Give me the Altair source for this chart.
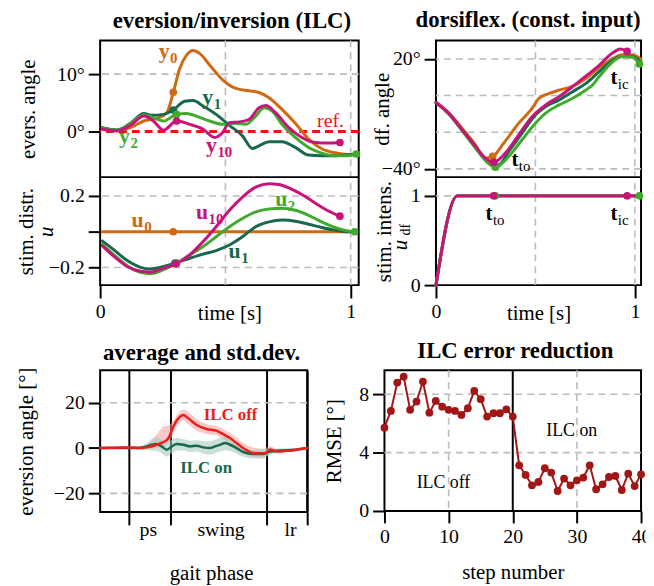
import altair as alt
import pandas as pd

FONT = "Liberation Serif"
ORANGE = "#cf6a12"
DKGREEN = "#17694c"
LTGREEN = "#3eab2d"
MAGENTA = "#c9137a"
REFRED = "#ee1414"
GRID = "#bcbcbc"
OFFRED = "#ee1c1c"
DARKRED = "#a31616"

# ---------------- data ----------------
# eversion/inversion (ILC): time [s], angle [deg]
y0_t = [0.009, 0.068, 0.121, 0.174, 0.226, 0.266, 0.292, 0.318, 0.345, 0.371, 0.397, 0.437,
        0.489, 0.542, 0.595, 0.634, 0.674, 0.726, 0.779, 0.832, 0.884, 0.937, 0.989, 1.029]
y0_v = [0.57, 0.23, 0.69, 1.84, 2.3, 3.28, 6.84, 11.0, 13.3, 14.1, 13.6, 11.6,
        9.0, 7.5, 7.1, 6.8, 5.9, 3.85, 1.44, -1.3, -3.0, -3.7, -4.0, -3.9]
y1_t = [0.009, 0.068, 0.121, 0.174, 0.207, 0.253, 0.292, 0.338, 0.371, 0.411, 0.463, 0.516,
        0.568, 0.608, 0.634, 0.674, 0.726, 0.779, 0.832, 0.884, 0.937, 0.989, 1.029]
y1_v = [0.69, 0.29, 1.44, 3.16, 2.82, 2.99, 3.74, 5.29, 5.4, 4.43, 2.99, 1.09,
        -0.75, -2.93, -2.47, -1.78, -1.78, -2.76, -4.08, -4.2, -4.2, -4.02, -3.9]
y2_t = [0.009, 0.068, 0.121, 0.174, 0.213, 0.253, 0.305, 0.345, 0.384, 0.437, 0.489, 0.542,
        0.582, 0.621, 0.654, 0.687, 0.726, 0.779, 0.832, 0.884, 0.937, 0.989, 1.022]
y2_v = [0.57, 0.23, 1.44, 2.87, 2.41, 1.84, 2.99, 3.16, 2.7, 1.84, 1.26, 1.44,
        1.26, 2.7, 4.14, 3.56, 1.26, -1.03, -2.76, -3.74, -4.2, -4.2, -3.9]
y10_t = [0.009, 0.068, 0.121, 0.174, 0.213, 0.253, 0.305, 0.358, 0.411, 0.457, 0.489, 0.516,
         0.555, 0.595, 0.634, 0.661, 0.7, 0.753, 0.805, 0.858, 0.911, 0.957]
y10_v = [0.4, 0.11, 1.09, 2.7, 1.84, 0.23, 1.84, 1.26, 0.4, -1.03, -0.17, 1.55,
         1.67, 2.13, 4.14, 4.54, 3.28, 0.69, -1.03, -1.9, -2.0, -1.9]

# stimulation distribution u
u0_t = [0.009, 0.292, 1.016]
u0_v = [0.0, 0.0, 0.0]
u1_t = [0.009, 0.055, 0.108, 0.161, 0.2, 0.253, 0.299, 0.358, 0.411, 0.463, 0.516, 0.568,
        0.621, 0.674, 0.726, 0.779, 0.832, 0.884, 0.937, 0.989, 1.016]
u1_v = [-0.052, -0.101, -0.161, -0.199, -0.208, -0.194, -0.175, -0.148, -0.125, -0.105, -0.074, -0.028,
        0.028, 0.055, 0.065, 0.059, 0.042, 0.024, 0.009, 0.0, 0.0]
u2_t = [0.009, 0.055, 0.108, 0.161, 0.2, 0.253, 0.305, 0.358, 0.411, 0.463, 0.516, 0.568,
        0.621, 0.674, 0.726, 0.779, 0.832, 0.884, 0.937, 0.989, 1.016]
u2_v = [-0.070, -0.129, -0.19, -0.227, -0.234, -0.212, -0.175, -0.129, -0.083, -0.028, 0.028, 0.074,
        0.111, 0.127, 0.131, 0.12, 0.092, 0.055, 0.024, 0.004, 0.0]
u10_t = [0.009, 0.055, 0.108, 0.161, 0.2, 0.253, 0.303, 0.358, 0.411, 0.463, 0.516, 0.568,
         0.621, 0.674, 0.713, 0.753, 0.805, 0.858, 0.911, 0.957]
u10_v = [-0.079, -0.138, -0.194, -0.221, -0.225, -0.203, -0.179, -0.129, -0.055, 0.028, 0.12, 0.194,
         0.249, 0.268, 0.264, 0.245, 0.208, 0.161, 0.116, 0.087]

# dorsiflexion (const. input): angle [deg]
dfo_t = [0.0, 0.064, 0.131, 0.198, 0.245, 0.285, 0.341, 0.416, 0.483, 0.517, 0.567, 0.617,
         0.685, 0.752, 0.819, 0.886, 0.936, 0.987, 1.03]
dfo_v = [-3.8, -9.4, -17.8, -26.8, -34.2, -33.2, -25.9, -15.1, -7.0, -1.6, 1.1, 2.9,
         5.0, 9.2, 15.1, 20.0, 22.3, 22.3, 20.0]
dfd_t = [0.0, 0.064, 0.131, 0.198, 0.248, 0.282, 0.315, 0.366, 0.433, 0.5, 0.55, 0.617,
         0.685, 0.752, 0.819, 0.886, 0.936, 0.987, 1.03]
dfd_v = [-3.8, -9.7, -18.7, -27.7, -35.0, -37.7, -37.7, -30.5, -20.5, -10.6, -6.1, -2.5,
         2.0, 6.5, 12.9, 19.1, 21.3, 21.3, 18.2]
dfl_t = [0.0, 0.064, 0.131, 0.198, 0.257, 0.299, 0.366, 0.433, 0.5, 0.55, 0.617, 0.685,
         0.752, 0.785, 0.819, 0.886, 0.936, 0.987, 1.023]
dfl_v = [-3.8, -10.1, -19.1, -28.6, -36.4, -39.1, -33.2, -24.1, -15.1, -9.7, -5.2, -1.6,
         2.9, 5.6, 10.1, 18.2, 21.3, 20.9, 17.3]
dfm_t = [0.0, 0.064, 0.131, 0.198, 0.248, 0.29, 0.349, 0.416, 0.483, 0.55, 0.617, 0.685,
         0.752, 0.819, 0.886, 0.928, 0.961]
dfm_v = [-3.8, -9.7, -18.7, -27.7, -34.1, -36.4, -31.4, -21.4, -11.5, -5.2, -0.7, 4.7,
         10.5, 16.4, 23.1, 25.4, 24.1]

# stimulation intensity u_df
ramp_t = [0.0, 0.107, 1.03]
ramp_v = [0.0, 1.0, 1.0]

# average and std.dev. (gait phase 0..1)
off_x = [0.0, 0.08, 0.145, 0.193, 0.225, 0.273, 0.305, 0.33, 0.354, 0.378, 0.402, 0.426, 0.466,
         0.514, 0.563, 0.595, 0.627, 0.659, 0.691, 0.74, 0.788, 0.804, 0.82, 0.852, 0.9, 0.949, 1.0]
off_m = [0.0, 0.15, 0.3, 0.0, 0.3, 1.46, 2.6, 4.4, 9.5, 13.1, 14.6, 13.1, 10.2,
         8.4, 7.6, 6.1, 4.4, 2.2, 0.0, -2.2, -2.3, -2.0, -0.6, -1.5, -1.2, -0.7, 0.0]
off_hi = [0.5, 0.6, 0.8, 0.6, 1.5, 6.0, 9.5, 10.0, 12.0, 15.5, 17.0, 16.0, 12.8,
          10.6, 9.6, 8.3, 6.8, 4.6, 2.2, 0.2, -0.3, 0.3, 0.8, -0.4, -0.5, 0.0, 0.5]
off_lo = [-0.5, -0.3, -0.2, -0.6, -0.5, 0.0, 0.8, 2.0, 6.5, 10.5, 12.2, 10.5, 7.7,
          6.2, 5.6, 3.9, 2.1, -0.2, -2.2, -4.2, -4.4, -3.5, -2.0, -2.3, -1.8, -1.2, -0.5]
on_x = [0.0, 0.177, 0.225, 0.249, 0.273, 0.297, 0.322, 0.346, 0.37, 0.402, 0.434, 0.466, 0.498,
        0.53, 0.555, 0.579, 0.603, 0.627, 0.659, 0.691, 0.74, 0.788, 0.812, 0.852, 0.949, 1.0]
on_m = [0.0, 0.0, 0.73, 1.46, 1.75, 0.73, -0.73, 0.73, 1.75, 1.46, 0.73, 1.0, 0.3,
        0.0, 0.73, 1.46, 2.2, 1.46, 0.0, -1.75, -2.6, -2.6, -1.75, -1.2, -0.7, 0.0]
on_sd = [0.4, 0.5, 1.5, 2.5, 3.0, 3.0, 3.0, 3.0, 2.8, 2.5, 2.5, 2.5, 2.8,
         3.0, 3.0, 3.0, 3.0, 2.8, 2.5, 2.2, 2.0, 2.0, 1.5, 1.0, 0.7, 0.4]
phase_bounds = [0.14, 0.34, 0.806, 1.0]
phase_names = ["ps", "swing", "lr"]
phase_centers = [0.233, 0.584, 0.92]

# ILC error reduction
rmse_step = [0, 1, 2, 3, 4, 5, 6, 7, 8, 9, 10, 11, 12, 13, 14, 15, 16, 17, 18, 19, 20,
             21, 22, 23, 24, 25, 26, 27, 28, 29, 30, 31, 32, 33, 34, 35, 36, 37, 38, 39, 40]
rmse_val = [5.71, 6.86, 8.8, 9.21, 6.93, 7.5, 8.87, 6.74, 7.54, 7.15, 6.93, 6.86, 6.58, 7.04,
            8.23, 7.66, 6.47, 6.7, 6.7, 6.97, 6.47, 3.13, 2.47, 1.76, 1.99, 2.93, 2.63, 1.37,
            2.22, 1.76, 2.1, 2.29, 3.13, 1.49, 1.83, 2.33, 2.4, 1.44, 2.56, 1.71, 2.51]

time_grid = [0.5, 1.0]


# ---------------- helpers ----------------
def sc(dom, rng=None):
    if rng is None:
        return alt.Scale(domain=dom, nice=False, zero=False)
    return alt.Scale(domain=dom, range=rng, nice=False, zero=False)


def line(xe, ye, t, v, color, width=3.0, interp="monotone"):
    return alt.Chart(pd.DataFrame({"x": t, "y": v})).mark_line(
        interpolate=interp, strokeWidth=width, color=color, strokeCap="round", strokeJoin="round"
    ).encode(x=xe, y=ye)


def dots(xe, ye, t, v, color, size=60):
    return alt.Chart(pd.DataFrame({"x": t, "y": v})).mark_circle(
        size=size, opacity=1, color=color
    ).encode(x=xe, y=ye)


def hrules(ye, vals, color=GRID, dash=(7, 5), width=1.6):
    return alt.Chart(pd.DataFrame({"y": vals})).mark_rule(
        color=color, strokeDash=list(dash), strokeWidth=width
    ).encode(y=ye)


def vrules(xe, vals, color=GRID, dash=(7, 5), width=1.6):
    return alt.Chart(pd.DataFrame({"x": vals})).mark_rule(
        color=color, strokeDash=list(dash), strokeWidth=width
    ).encode(x=xe)


def text(xe, ye, x, y, s, color="black", size=20, weight="normal", align="center",
         baseline="alphabetic", angle=0, style="normal"):
    return alt.Chart(pd.DataFrame({"x": [x], "y": [y], "s": [s]})).mark_text(
        font=FONT, fontSize=size, fontWeight=weight, color=color, align=align,
        baseline=baseline, angle=angle, fontStyle=style
    ).encode(x=xe, y=ye, text="s:N")


def heading(xe, ye, x, y, s):
    return text(xe, ye, x, y, s, size=23, weight="bold")


def sublabel(xe, ye, x, y, main, sub, color, msize=22, ssize=15, sweight="bold", sdy=5):
    d = pd.DataFrame({"x": [x], "y": [y], "m": [main], "s": [sub]})
    a = alt.Chart(d).mark_text(align="right", baseline="alphabetic", font=FONT, fontSize=msize,
                               fontWeight="bold", color=color).encode(x=xe, y=ye, text="m:N")
    b = alt.Chart(d).mark_text(align="left", baseline="alphabetic", font=FONT, fontSize=ssize,
                               fontWeight=sweight, color=color, dx=0.5, dy=sdy).encode(x=xe, y=ye, text="s:N")
    return [a, b]


# ---------------- top-left: eversion (upper) + stim. distr. (lower) ----------------
WA, H1, H2 = 261, 138, 109
HT = H1 + H2
A1_dom = [-7.93, 15.86]
A2_dom = [-0.298, 0.305]
xA = alt.X("x:Q", scale=sc([0, 1.032]),
           axis=alt.Axis(values=[0, 1], format="d", title="time [s]", titleX=WA / 2, titleY=29,
                         titleBaseline="middle", tickSize=13, labelFlush=False))
yA1 = alt.Y("y:Q", scale=sc(A1_dom, [H1, 0]),
            axis=alt.Axis(values=[0, 10], labelExpr="datum.label + '°'", title="evers. angle",
                          orient="left", titleX=-72, titleY=H1 / 2, titleBaseline="middle"))
yA2 = alt.Y("y:Q", scale=sc(A2_dom, [HT, H1]),
            axis=alt.Axis(values=[-0.2, 0, 0.2], format=".1f", orient="left",
                          labelExpr="datum.value == 0 ? '' : datum.label",
                          title="stim. distr.", titleX=-74, titleY=H1 + H2 / 2, titleBaseline="middle"))
A_up = alt.layer(
    vrules(xA, time_grid),
    hrules(yA1, [10]),
    hrules(yA1, [0], color=REFRED, dash=(8, 5), width=3),
    line(xA, yA1, y0_t, y0_v, ORANGE),
    line(xA, yA1, y1_t, y1_v, DKGREEN),
    line(xA, yA1, y2_t, y2_v, LTGREEN),
    line(xA, yA1, y10_t, y10_v, MAGENTA),
    dots(xA, yA1, [y0_t[6]], [y0_v[6]], ORANGE),
    dots(xA, yA1, [y1_t[6]], [y1_v[6]], DKGREEN),
    dots(xA, yA1, [y2_t[6], y2_t[-1]], [y2_v[6], y2_v[-1]], LTGREEN),
    dots(xA, yA1, [y10_t[6], y10_t[-1]], [y10_v[6], y10_v[-1]], MAGENTA),
    *sublabel(xA, yA1, 0.277, 12.76, "y", "0", ORANGE),
    *sublabel(xA, yA1, 0.451, 4.83, "y", "1", DKGREEN),
    *sublabel(xA, yA1, 0.119, -2.07, "y", "2", LTGREEN),
    *sublabel(xA, yA1, 0.466, -3.62, "y", "10", MAGENTA),
    text(xA, yA1, 0.866, 0.86, "ref.", color=REFRED, align="left"),
    hrules(yA1, [A1_dom[0]], color="black", dash=(1, 0), width=2),
    heading(xA, yA1, 0.526, 18.1, "eversion/inversion (ILC)"),
)
A_low = alt.layer(
    hrules(yA2, [-0.2, 0.2]),
    line(xA, yA2, u0_t, u0_v, ORANGE),
    line(xA, yA2, u1_t, u1_v, DKGREEN),
    line(xA, yA2, u2_t, u2_v, LTGREEN),
    line(xA, yA2, u10_t, u10_v, MAGENTA),
    dots(xA, yA2, [u0_t[1]], [u0_v[1]], ORANGE),
    dots(xA, yA2, [u1_t[6]], [u1_v[6]], DKGREEN),
    dots(xA, yA2, [u2_t[6], u2_t[-1]], [u2_v[6], u2_v[-1]], LTGREEN),
    dots(xA, yA2, [u10_t[6], u10_t[-1]], [u10_v[6], u10_v[-1]], MAGENTA),
    *sublabel(xA, yA2, 0.174, 0.029, "u", "0", ORANGE),
    *sublabel(xA, yA2, 0.431, 0.073, "u", "10", MAGENTA),
    *sublabel(xA, yA2, 0.747, 0.145, "u", "2", LTGREEN),
    *sublabel(xA, yA2, 0.561, -0.148, "u", "1", DKGREEN),
    text(xA, yA2, -0.213, 0.0, "u", angle=270, baseline="middle", style="italic", size=21),
)
A = alt.layer(A_up, A_low).resolve_scale(y="independent").properties(width=WA, height=HT)

# ---------------- top-right: dorsiflexion + stim. intens. ----------------
WB = 207
B1_dom = [-44.5, 30.1]
B2_dom = [0, 1.21]
xB = alt.X("x:Q", scale=sc([0, 1.031]),
           axis=alt.Axis(values=[0, 1], format="d", title="time [s]", titleX=WB / 2, titleY=29,
                         titleBaseline="middle", tickSize=13, labelFlush=False))
yB1 = alt.Y("y:Q", scale=sc(B1_dom, [H1, 0]),
            axis=alt.Axis(values=[-40, 20], labelExpr="datum.label + '°'", title="df. angle",
                          orient="left", titleX=-54, titleY=H1 / 2, titleBaseline="middle"))
yB2 = alt.Y("y:Q", scale=sc(B2_dom, [HT, H1]),
            axis=alt.Axis(values=[0, 1], format="d", title="stim. intens.", orient="left", titleX=-52,
                          titleY=H1 + H2 / 2, titleBaseline="middle"))
B_up = alt.layer(
    vrules(xB, time_grid),
    hrules(yB1, [20, 0, -20, -40]),
    line(xB, yB1, dfo_t, dfo_v, ORANGE),
    line(xB, yB1, dfd_t, dfd_v, DKGREEN),
    line(xB, yB1, dfl_t, dfl_v, LTGREEN),
    line(xB, yB1, dfm_t, dfm_v, MAGENTA),
    dots(xB, yB1, [dfo_t[5]], [dfo_v[5]], ORANGE),
    dots(xB, yB1, [dfl_t[5], dfl_t[-1]], [dfl_v[5], dfl_v[-1]], LTGREEN),
    dots(xB, yB1, [dfm_t[5], dfm_t[-1]], [dfm_v[5], dfm_v[-1]], MAGENTA),
    *sublabel(xB, yB1, 0.414, -38.5, "t", "to", "black", msize=21, ssize=15, sweight="normal"),
    *sublabel(xB, yB1, 0.912, 6.3, "t", "ic", "black", msize=21, ssize=15, sweight="normal"),
    hrules(yB1, [B1_dom[0]], color="black", dash=(1, 0), width=2),
    heading(xB, yB1, 0.463, 37.4, "dorsiflex. (const. input)"),
)
B_low = alt.layer(
    hrules(yB2, [1]),
    line(xB, yB2, ramp_t, ramp_v, ORANGE),
    line(xB, yB2, ramp_t, ramp_v, DKGREEN),
    line(xB, yB2, ramp_t, ramp_v, LTGREEN),
    line(xB, yB2, ramp_t, ramp_v, MAGENTA),
    dots(xB, yB2, [dfl_t[5], dfl_t[-1]], [ramp_v[-1], ramp_v[-1]], LTGREEN),
    dots(xB, yB2, [dfm_t[5], dfm_t[-1]], [ramp_v[-1], ramp_v[-1]], MAGENTA),
    *sublabel(xB, yB2, 0.284, 0.73, "t", "to", "black", msize=21, ssize=15, sweight="normal"),
    *sublabel(xB, yB2, 0.912, 0.73, "t", "ic", "black", msize=21, ssize=15, sweight="normal"),
    text(xB, yB2, -0.174, 0.45, "u", angle=270, baseline="middle", style="italic", size=21),
    text(xB, yB2, -0.152, 0.62, "df", angle=270, baseline="middle", size=14),
)
B = alt.layer(B_up, B_low).resolve_scale(y="independent").properties(width=WB, height=HT)

# ---------------- bottom-left: average and std.dev. ----------------
WC, HC = 209, 143
C_dom = [-28.2, 34.3]
xC = alt.X("x:Q", scale=sc([0, 1]),
           axis=alt.Axis(values=phase_bounds, labels=False, grid=True, gridColor="black",
                         gridWidth=2, gridDash=[1, 0], tickSize=13, title="gait phase",
                         titleX=112, titleY=62, titleBaseline="middle"))
C_axis = alt.Axis(values=[-20, 0, 20], title="eversion angle [°]", titleX=-74,
                  titleY=HC / 2, titleBaseline="middle")
yC = alt.Y("y:Q", scale=sc(C_dom), axis=C_axis)
off_df = pd.DataFrame({"x": off_x, "lo": off_lo, "hi": off_hi})
on_df = pd.DataFrame({"x": on_x, "m": on_m, "sd": on_sd})
band_off = alt.Chart(off_df).mark_area(interpolate="monotone", color="#f29c9c", opacity=0.55).encode(
    x=xC, y=alt.Y("lo:Q", scale=sc(C_dom), axis=C_axis), y2="hi:Q")
band_on = alt.Chart(on_df).transform_calculate(lo="datum.m - datum.sd", hi="datum.m + datum.sd").mark_area(
    interpolate="monotone", color="#a9cdbd", opacity=0.6).encode(
    x=xC, y=alt.Y("lo:Q", scale=sc(C_dom), axis=C_axis), y2="hi:Q")
C = alt.layer(
    hrules(yC, [-20, 20]),
    band_off,
    band_on,
    line(xC, yC, on_x, on_m, DKGREEN, width=2.5),
    line(xC, yC, off_x, off_m, OFFRED, width=2.5),
    text(xC, yC, 0.63, 12.4, "ILC off", color=OFFRED, size=17, weight="bold"),
    text(xC, yC, 0.512, -11.1, "ILC on", color=DKGREEN, size=17, weight="bold"),
    text(xC, yC, phase_centers[0], -38.6, phase_names[0]),
    text(xC, yC, phase_centers[1], -38.6, phase_names[1]),
    text(xC, yC, phase_centers[2], -38.6, phase_names[2]),
    heading(xC, yC, 0.49, 38.7, "average and std.dev."),
).properties(width=WC, height=HC)

# ---------------- bottom-right: ILC error reduction ----------------
WD, HD = 259, 142
xD = alt.X("x:Q", scale=sc([0, 40]),
           axis=alt.Axis(values=[0, 10, 20, 30, 40], title="step number", titleX=WD / 2, titleY=62,
                         titleBaseline="middle", labelFlush=False))
yD = alt.Y("y:Q", scale=sc([0, 9.64]),
           axis=alt.Axis(values=[0, 4, 8], title="RMSE [°]", titleX=-50, titleY=HD / 2,
                         titleBaseline="middle"))
D = alt.layer(
    vrules(xD, [10, 30]),
    hrules(yD, [4, 8]),
    vrules(xD, [20], color="black", dash=(1, 0), width=2),
    line(xD, yD, rmse_step, rmse_val, DARKRED, width=2, interp="linear"),
    dots(xD, yD, rmse_step, rmse_val, DARKRED, size=62),
    text(xD, yD, 9.2, 1.58, "ILC off", size=18),
    text(xD, yD, 29.2, 5.14, "ILC on", size=18),
    heading(xD, yD, 20.4, 10.46, "ILC error reduction"),
).properties(width=WD, height=HD)

row1 = alt.hconcat(A, B, spacing=78, bounds="flush")
row2 = alt.hconcat(C, D, spacing=78, bounds="flush")

chart = alt.vconcat(row1, row2, spacing=14).properties(
    padding={"left": 7, "top": -3, "right": -6, "bottom": 0}
).configure_view(
    stroke="black", strokeWidth=2
).configure_axis(
    labelFont=FONT, labelFontSize=20, labelColor="black", labelPadding=4,
    titleFont=FONT, titleFontSize=21, titleFontWeight="normal", titleColor="black",
    tickColor="black", tickWidth=2, tickSize=12, domain=False, grid=False
)

chart.save("out.html", embed_options={"renderer": "svg", "actions": False})
